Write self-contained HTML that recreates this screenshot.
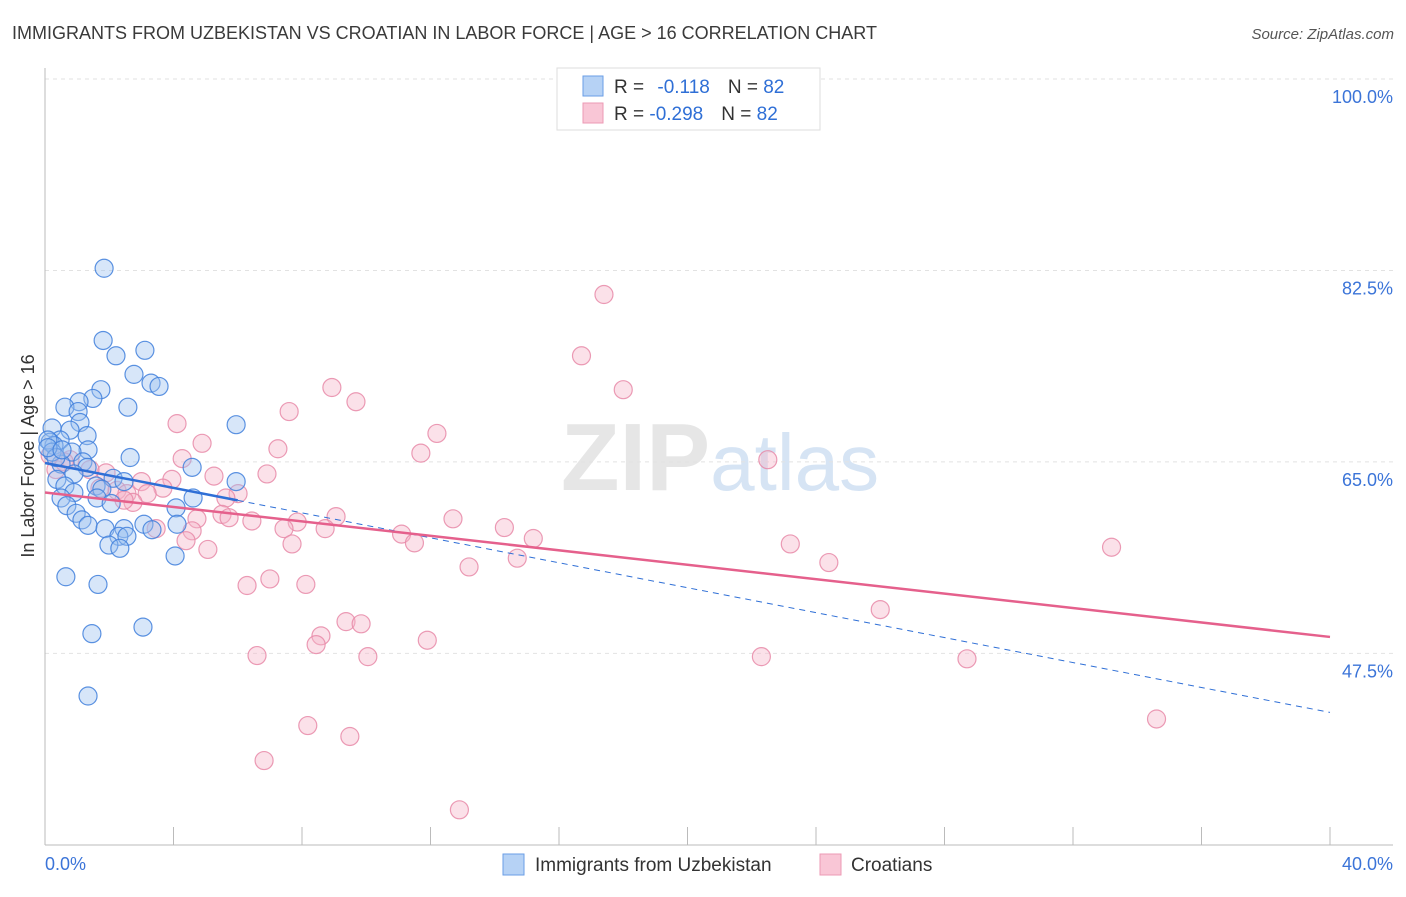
<!DOCTYPE html>
<html><head><meta charset="utf-8"><style>
body{margin:0;background:#fff;font-family:"Liberation Sans",sans-serif;}
svg text{font-family:"Liberation Sans",sans-serif;}
</style></head><body>
<svg id="chart" width="1406" height="892" viewBox="0 0 1406 892">
<text x="12" y="39" font-size="18" fill="#3a3a3a">IMMIGRANTS FROM UZBEKISTAN VS CROATIAN IN LABOR FORCE | AGE &gt; 16 CORRELATION CHART</text>
<text x="1394" y="39" font-size="15" fill="#555" text-anchor="end" font-style="italic">Source: ZipAtlas.com</text>
<text x="720" y="490" font-size="96" text-anchor="middle" fill="#e6e6e6" font-family="Liberation Serif"><tspan font-weight="bold">ZIP</tspan><tspan fill="#d6e4f4" font-family="Liberation Sans" font-size="80">atlas</tspan></text>
<g id="grid"></g>
<g id="axes"></g>
<g id="pts"></g>
<g id="trends"></g>
<text transform="translate(34,456) rotate(-90)" font-size="18" fill="#333" text-anchor="middle">In Labor Force | Age &gt; 16</text>
<g>
<rect x="557" y="68" width="263" height="62" fill="#fff" stroke="#ddd"/>
<rect x="583" y="76" width="20" height="20" fill="#b6d2f5" stroke="#6a9ee6"/>
<rect x="583" y="103" width="20" height="20" fill="#f9c6d6" stroke="#ec9ab4"/>
<text x="614" y="93" font-size="19" fill="#333">R = <tspan fill="#2f6fd6" dx="8">-0.118</tspan><tspan fill="#333" dx="18">N = </tspan><tspan fill="#2f6fd6">82</tspan></text>
<text x="614" y="120" font-size="19" fill="#333">R = <tspan fill="#2f6fd6">-0.298</tspan><tspan fill="#333" dx="18">N = </tspan><tspan fill="#2f6fd6">82</tspan></text>
</g>
<g>
<rect x="503" y="854" width="21" height="21" fill="#b6d2f5" stroke="#6a9ee6"/>
<text x="535" y="871" font-size="19" fill="#333">Immigrants from Uzbekistan</text>
<rect x="820" y="854" width="21" height="21" fill="#f9c6d6" stroke="#ec9ab4"/>
<text x="851" y="871" font-size="19" fill="#333">Croatians</text>
</g>
</svg>
<script>
const yTicks=[100,82.5,65,47.5];
const yTickLabels=["100.0%","82.5%","65.0%","47.5%"];
const xTickLabels=["0.0%","40.0%"];
const blueX=[1.84,1.81,2.21,3.11,2.77,3.30,3.55,1.74,1.49,1.06,0.62,2.58,1.03,1.09,5.95,0.22,0.78,1.31,0.47,0.16,0.28,1.34,0.84,2.65,1.18,0.50,4.58,1.31,0.90,2.12,0.37,2.46,5.95,0.62,1.59,1.77,0.90,0.50,4.61,1.62,2.06,0.68,4.08,0.97,1.15,1.34,3.08,4.11,1.87,2.46,3.33,2.30,2.55,1.99,2.33,4.05,0.65,1.65,3.05,1.46,1.34,0.09,0.22,0.34,0.09,0.53];
const blueY=[82.7,76.1,74.7,75.2,73.0,72.2,71.9,71.6,70.8,70.5,70.0,70.0,69.6,68.6,68.4,68.1,67.9,67.4,67.0,66.8,66.5,66.1,65.9,65.4,65.0,64.8,64.5,64.5,63.9,63.5,63.4,63.2,63.2,62.8,62.8,62.5,62.2,61.7,61.7,61.7,61.2,61.0,60.8,60.3,59.7,59.2,59.3,59.3,58.9,58.9,58.8,58.2,58.2,57.4,57.1,56.4,54.5,53.8,49.9,49.3,43.6,67.0,65.9,65.4,66.3,66.1];
const pinkX=[17.4,16.7,18.0,8.93,9.68,7.60,4.11,12.2,4.89,7.25,11.7,22.5,4.27,6.91,5.26,1.90,3.95,3.00,3.67,2.24,3.18,2.55,6.01,5.63,2.74,2.46,9.06,7.85,5.51,5.73,4.73,6.44,12.7,14.3,7.44,8.72,3.46,4.58,11.1,15.2,11.5,7.69,4.39,5.07,23.2,33.2,14.7,24.4,13.2,7.00,8.12,6.29,26.0,9.37,9.84,8.59,8.44,11.9,6.60,10.05,22.3,28.7,34.6,8.18,9.49,6.82,12.9,0.34,0.78,1.40,1.71,0.6,0.16];
const pinkY=[80.3,74.7,71.6,71.8,70.5,69.6,68.5,67.6,66.7,66.2,65.8,65.2,65.3,63.9,63.7,64.0,63.4,63.2,62.6,62.4,62.1,62.1,62.1,61.7,61.3,61.5,60.0,59.5,60.2,59.9,59.8,59.6,59.8,59.0,58.9,58.9,58.9,58.7,58.4,58.0,57.6,57.5,57.8,57.0,57.5,57.2,56.2,55.8,55.4,54.3,53.8,53.7,51.5,50.4,50.2,49.1,48.3,48.7,47.3,47.2,47.2,47.0,41.5,40.9,39.9,37.7,33.2,64.3,65.2,64.3,62.6,65.0,65.6];
const blueTrend=[64.9,-0.57];
const pinkTrend=[62.2,-0.33];
const NS='http://www.w3.org/2000/svg';
const X0=45,X1=1330,Ytop=79,Ybot=845;
function sx(v){return X0+v/40*(X1-X0);}
function sy(v){return 79+(100-v)*10.94;}
function mk(tag,attrs,parent){const e=document.createElementNS(NS,tag);for(const k in attrs)e.setAttribute(k,attrs[k]);parent.appendChild(e);return e;}
const grid=document.getElementById('grid'),axes=document.getElementById('axes');
yTicks.forEach((t,i)=>{
  const l=mk('line',{x1:45,x2:1393,y1:sy(t),y2:sy(t),stroke:'#e2e2e2','stroke-dasharray':'4,4'},grid);
  
  
  const tx=mk('text',{x:1393,y:sy(t)+24,'font-size':18,fill:'#3b74d8','text-anchor':'end'},grid);
  tx.textContent=yTickLabels[i];
  
  
});
let a=mk('line',{x1:45,x2:45,y1:68,y2:845,stroke:'#bbb'},axes);


a=mk('line',{x1:45,x2:1393,y1:845,y2:845,stroke:'#bbb'},axes);


for(let i=1;i<=10;i++){
  const t=mk('line',{x1:sx(i*4),x2:sx(i*4),y1:827,y2:845,stroke:'#bbb'},axes);
  
  
}
[[0,'start',45],[40,'end',1393]].forEach((d,i)=>{
  const tx=mk('text',{x:d[2],y:870,'font-size':18,fill:'#3b74d8','text-anchor':d[1]},axes);
  tx.textContent=xTickLabels[i];
  
  
});
const pts=document.getElementById('pts');
function plot(xs,ys,fill,stroke,name){
  xs.forEach((x,i)=>{
    const c=mk('circle',{cx:sx(x),cy:sy(ys[i]),r:9,fill:fill,'fill-opacity':0.4,stroke:stroke,'stroke-width':1.2,'stroke-opacity':0.85},pts);
    
    
  });
}
plot(pinkX,pinkY,'#f4b3c8','#e88aa8','croatian-point');
plot(blueX,blueY,'#9cc0ef','#3f7fdc','uzbekistan-point');
const tr=document.getElementById('trends');
let L=mk('line',{x1:sx(0),y1:sy(blueTrend[0]),x2:sx(6),y2:sy(blueTrend[0]+blueTrend[1]*6),stroke:'#2f6fd6','stroke-width':2.5},tr);


L=mk('line',{x1:sx(6),y1:sy(blueTrend[0]+blueTrend[1]*6),x2:sx(40),y2:sy(blueTrend[0]+blueTrend[1]*40),stroke:'#2f6fd6','stroke-width':1,'stroke-dasharray':'6,5'},tr);


L=mk('line',{x1:sx(0),y1:sy(pinkTrend[0]),x2:sx(40),y2:sy(pinkTrend[0]+pinkTrend[1]*40),stroke:'#e5608c','stroke-width':2.5},tr);


</script>
</body></html>
